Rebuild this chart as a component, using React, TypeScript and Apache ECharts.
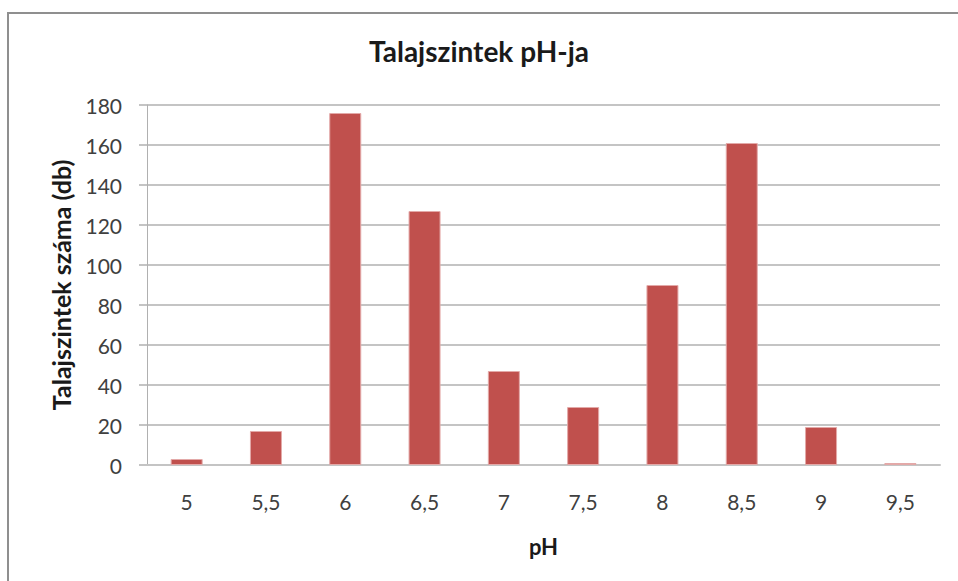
import React, { useEffect, useRef } from "react";
import * as echarts from "echarts";

// pH categories of the soil samples and the number of soil layers in each
const phLabels: string[] = ["5", "5,5", "6", "6,5", "7", "7,5", "8", "8,5", "9", "9,5"];
const layerCounts: number[] = [3, 17, 176, 127, 47, 29, 90, 161, 19, 1];
const yTicks = { min: 0, max: 180, interval: 20 };

const FONT = "Lato, 'Open Sans', sans-serif";

export default function App() {
  const ref = useRef<HTMLDivElement | null>(null);

  useEffect(() => {
    if (!ref.current) return;
    const chart = echarts.init(ref.current, undefined, { renderer: "svg" });
    chart.setOption({
      animation: false,
      backgroundColor: "#ffffff",
      textStyle: { fontFamily: FONT },
      title: {
        text: "Talajszintek pH-ja",
        left: "center",
        top: 32,
        padding: [5, 5, 5, 19],
        textStyle: { fontFamily: FONT, fontSize: 28, fontWeight: "bold", color: "#1a1a1a" },
      },
      graphic: [
        {
          type: "rect",
          shape: { x: 8, y: 13, width: 1000, height: 1000 },
          style: { fill: "none", stroke: "#8f8f8f", lineWidth: 2 },
          silent: true,
        },
      ],
      grid: { left: 147, right: 18, top: 105, bottom: 116 },
      xAxis: {
        type: "category",
        data: phLabels,
        name: "pH",
        nameLocation: "middle",
        nameGap: 70,
        nameTextStyle: { fontFamily: FONT, fontSize: 22, fontWeight: "bold", color: "#1a1a1a" },
        axisLine: { lineStyle: { color: "#c4c4c4", width: 2 } },
        axisTick: { show: false },
        axisLabel: { margin: 26, fontFamily: FONT, fontSize: 21, color: "#404040" },
      },
      yAxis: {
        type: "value",
        min: yTicks.min,
        max: yTicks.max,
        interval: yTicks.interval,
        name: "Talajszintek száma (db)",
        nameLocation: "middle",
        nameGap: 74,
        nameTextStyle: { fontFamily: FONT, fontSize: 25, fontWeight: "bold", color: "#1a1a1a" },
        axisLine: { show: true, lineStyle: { color: "#b0b0b0", width: 1 } },
        axisTick: { show: true, length: 8, lineStyle: { color: "#c4c4c4", width: 2 } },
        axisLabel: { margin: 25, fontFamily: FONT, fontSize: 21, color: "#404040" },
        splitLine: { show: true, lineStyle: { color: "#c4c4c4", width: 2 } },
      },
      series: [
        {
          type: "bar",
          data: layerCounts,
          barWidth: 32,
          itemStyle: { color: "#c0504d", borderColor: "#e3a9a8", borderWidth: 1 },
        },
      ],
    });
    return () => chart.dispose();
  }, []);

  return (
    <div
      ref={ref}
      style={{ position: "fixed", left: 0, top: 0, width: 958, height: 581 }}
    />
  );
}
